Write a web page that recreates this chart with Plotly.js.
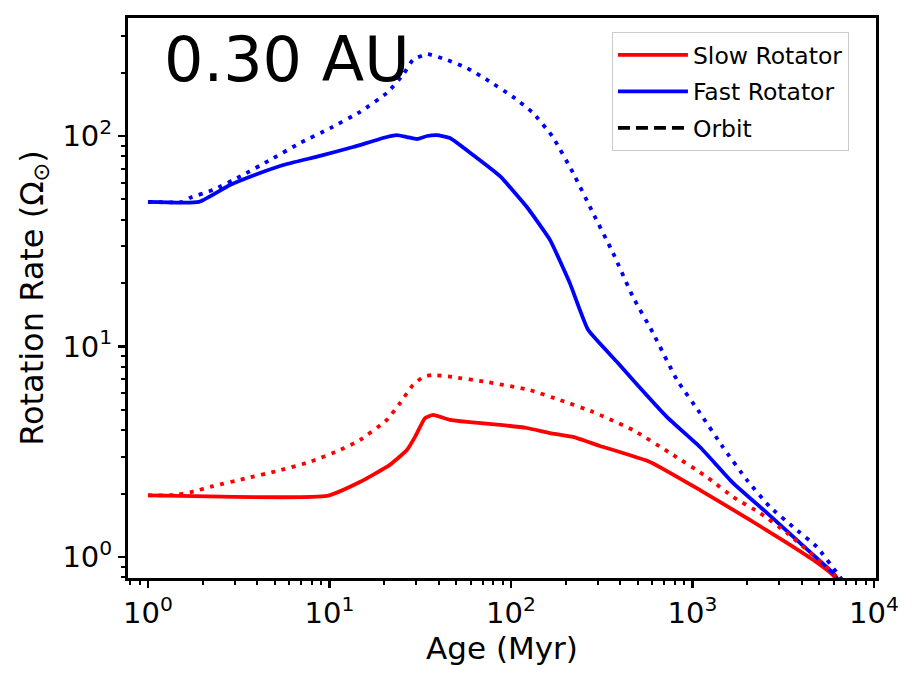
<!DOCTYPE html>
<html>
<head>
<meta charset="utf-8">
<script src="https://cdn.plot.ly/plotly-3.0.1.min.js"></script>
<style>
  html, body { margin: 0; padding: 0; background: #fff; }
  #chart { width: 918px; height: 682px; }
</style>
</head>
<body>
<div id="chart"></div>
<script>
// Spin evolution of a star with a planet at 0.30 AU (ages in Myr, rates in solar units)
const slowAge = [1, 9.69, 14.7, 21.5, 26.7, 29.6, 33.6, 37.2, 46.1, 57.3, 87, 122, 164, 220, 309, 583, 1100, 2070, 3150, 4610, 5940, 6500];
const slowRate = [1.96, 1.95, 2.27, 2.74, 3.22, 3.72, 4.57, 4.73, 4.48, 4.38, 4.24, 4.10, 3.88, 3.72, 3.37, 2.83, 2.08, 1.50, 1.20, 0.97, 0.82, 0.74];

const slowOrbitAge = [1, 1.4, 1.75, 2.28, 3.51, 5.14, 7.81, 11.4, 14.7, 20.7, 24.5, 28.8, 32.7, 36.7, 47.9, 73.8, 127, 186, 283, 470, 752, 1200, 1670, 2350, 3320, 4270, 5720, 6250, 6700];
const slowOrbitRate = [1.96, 1.97, 2.04, 2.17, 2.37, 2.56, 2.83, 3.22, 3.59, 4.48, 5.39, 6.56, 7.16, 7.32, 7.16, 6.78, 6.21, 5.57, 4.89, 4.01, 3.12, 2.40, 1.93, 1.62, 1.30, 1.08, 0.867, 0.80, 0.75];

const fastAge = [1, 1.91, 2.83, 4.14, 5.83, 8.87, 13.5, 20.7, 23.5, 26.7, 30.4, 34.5, 39.1, 46.1, 61.8, 87, 122, 164, 211, 266, 384, 470, 724, 1100, 1670, 2570, 3910, 5940, 6600];
const fastRate = [48.6, 48.6, 58.5, 66.7, 73.6, 80.4, 88.7, 98.9, 101, 98.9, 96.8, 100, 101, 97.8, 81.2, 64.4, 46.1, 32.1, 20.0, 12.0, 8.44, 6.93, 4.62, 3.33, 2.25, 1.62, 1.166, 0.84, 0.74];

const fastOrbitAge = [1, 1.56, 1.70, 2.28, 3.34, 4.70, 6.88, 10.1, 14.7, 20.7, 25.4, 28.8, 34.5, 44.4, 57.3, 73.8, 103, 132, 170, 220, 283, 365, 470, 606, 822, 1100, 1470, 1995, 2670, 3580, 4850, 6250, 6900];
const fastOrbitRate = [48.6, 48.6, 50.8, 55.4, 65.3, 76.9, 92.6, 109, 130, 160, 195, 230, 245, 230, 210, 185, 153, 129, 98.9, 66.7, 43.1, 27.8, 17.2, 11.6, 6.93, 4.83, 3.33, 2.32, 1.73, 1.39, 1.115, 0.84, 0.75];

const xTickVals = [1, 10, 100, 1000, 10000];
const xTickText = ['10<sup>0</sup>', '10<sup>1</sup>', '10<sup>2</sup>', '10<sup>3</sup>', '10<sup>4</sup>'];
const yTickVals = [1, 10, 100];
const yTickText = ['10<sup>0</sup>', '10<sup>1</sup>', '10<sup>2</sup>'];

const RED = '#ff0000';
const BLUE = '#0000ff';
const LW = 3.8;
const DOT = '4px,6.5px';
const SMOOTH = 0.4;

const traces = [
  { x: slowAge, y: slowRate, mode: 'lines', name: 'Slow Rotator', legendgroup: 'a',
    line: { color: RED, width: LW, shape: 'spline', smoothing: SMOOTH } },
  { x: fastAge, y: fastRate, mode: 'lines', name: 'Fast Rotator', legendgroup: 'b',
    line: { color: BLUE, width: LW, shape: 'spline', smoothing: SMOOTH } },
  { x: slowOrbitAge, y: slowOrbitRate, mode: 'lines', name: 'Slow orbit', showlegend: false,
    line: { color: RED, width: LW, dash: DOT, shape: 'spline', smoothing: SMOOTH } },
  { x: fastOrbitAge, y: fastOrbitRate, mode: 'lines', name: 'Fast orbit', showlegend: false,
    line: { color: BLUE, width: LW, dash: DOT, shape: 'spline', smoothing: SMOOTH } },
  // legend key for the orbit curves
  { x: [null], y: [null], mode: 'lines', name: 'Orbit', legendgroup: 'c',
    line: { color: '#000', width: LW, dash: '12px,6px' } }
];

const FONT = 'DejaVu Sans, sans-serif';

const layout = {
  width: 918, height: 682,
  margin: { l: 128, r: 42, t: 18, b: 104 },
  paper_bgcolor: '#fff', plot_bgcolor: '#fff',
  font: { family: FONT, color: '#000' },
  showlegend: true,
  legend: {
    x: 0.647, y: 0.975, xanchor: 'left', yanchor: 'top',
    bgcolor: 'rgba(255,255,255,0.85)', bordercolor: '#cccccc', borderwidth: 1,
    font: { family: FONT, size: 23.5, color: '#000' },
    traceorder: 'grouped', tracegroupgap: 3, itemwidth: 70
  },
  xaxis: {
    type: 'log', range: [-0.110, 4.011],
    showgrid: false, zeroline: false,
    showline: true, mirror: true, linecolor: '#000', linewidth: 3,
    ticks: 'outside', ticklen: 7, tickwidth: 2.5, tickcolor: '#000',
    tickvals: xTickVals, ticktext: xTickText,
    tickfont: { family: FONT, size: 29, color: '#000' },
    minor: { ticks: 'outside', ticklen: 4, tickwidth: 2, tickcolor: '#000', dtick: 'D1' },
    title: { text: 'Age (Myr)', font: { family: FONT, size: 31, color: '#000' }, standoff: 9 }
  },
  yaxis: {
    type: 'log', range: [-0.0998, 2.5606],
    showgrid: false, zeroline: false,
    showline: true, mirror: true, linecolor: '#000', linewidth: 3,
    ticks: 'outside', ticklen: 7, tickwidth: 2.5, tickcolor: '#000',
    tickvals: yTickVals, ticktext: yTickText,
    tickfont: { family: FONT, size: 29, color: '#000' },
    minor: { ticks: 'outside', ticklen: 4, tickwidth: 2, tickcolor: '#000', dtick: 'D1' },
    title: { text: 'Rotation Rate (Ω<sub>⊙</sub>)', font: { family: FONT, size: 32, color: '#000' }, standoff: 10 }
  },
  annotations: [
    { text: '0.30 AU', xref: 'paper', yref: 'paper', x: 0.046, y: 0.925,
      xanchor: 'left', yanchor: 'middle', showarrow: false,
      font: { family: FONT, size: 62, color: '#000' } }
  ]
};

Plotly.newPlot('chart', traces, layout, { staticPlot: true, displayModeBar: false });
</script>
</body>
</html>
